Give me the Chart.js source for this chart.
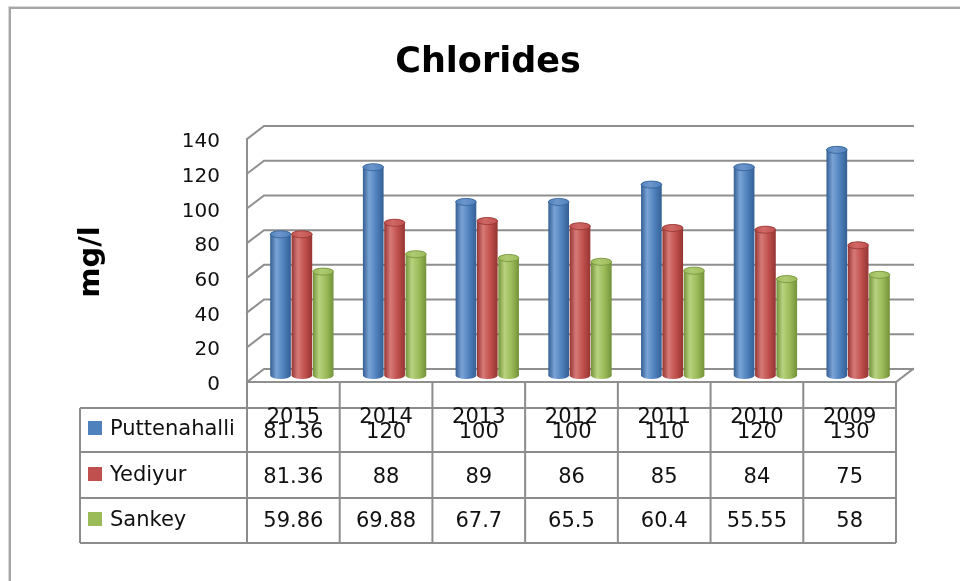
<!DOCTYPE html>
<html>
<head>
<meta charset="utf-8">
<title>Chlorides</title>
<script src="https://cdn.jsdelivr.net/npm/chart.js@4/dist/chart.umd.min.js"></script>
<style>
  html, body { margin: 0; padding: 0; background: #ffffff; }
  #wrap { width: 960px; height: 581px; position: relative; }
</style>
</head>
<body>
<div id="wrap"><canvas id="chart" width="960" height="581"></canvas></div>
<script>
// Chloride concentration (mg/l) per year at three sampling sites
const years = ['2015', '2014', '2013', '2012', '2011', '2010', '2009'];
const puttenahalli = [81.36, 120, 100, 100, 110, 120, 130];
const yediyur = [81.36, 88, 89, 86, 85, 84, 75];
const sankey = [59.86, 69.88, 67.7, 65.5, 60.4, 55.55, 58];
const seriesNames = ['Puttenahalli', 'Yediyur', 'Sankey'];
const yTickMin = 0, yTickMax = 140, yTickStep = 20;

const FONT = '"DejaVu Sans", sans-serif';
const palette = [
  { main: '#4f81bd', light: '#7aa3d6', dark: '#345f93', top: '#6d96cc' },
  { main: '#c0504d', light: '#d77a77', dark: '#943532', top: '#d06966' },
  { main: '#9bbb59', light: '#b8d27f', dark: '#73923a', top: '#afcb73' }
];
// 3D depth of the plot box (back wall offset)
const DEPTH = { dx: 17, dy: -13 };

function cylinder(ctx, cx, top, base, w, c) {
  const rx = w / 2, ry = Math.max(2.5, w * 0.17);
  const l = cx - rx, r = cx + rx;
  const g = ctx.createLinearGradient(l, 0, r, 0);
  g.addColorStop(0, c.dark);
  g.addColorStop(0.3, c.light);
  g.addColorStop(0.65, c.main);
  g.addColorStop(1, c.dark);
  ctx.beginPath();
  ctx.moveTo(l, top);
  ctx.lineTo(l, base);
  ctx.ellipse(cx, base, rx, ry, 0, Math.PI, 0, true);
  ctx.lineTo(r, top);
  ctx.ellipse(cx, top, rx, ry, 0, 0, Math.PI, true);
  ctx.closePath();
  ctx.fillStyle = g;
  ctx.fill();
  ctx.beginPath();
  ctx.ellipse(cx, top, rx, ry, 0, 0, Math.PI * 2);
  const tg = ctx.createLinearGradient(l, 0, r, 0);
  tg.addColorStop(0, c.main);
  tg.addColorStop(0.4, c.top);
  tg.addColorStop(1, c.main);
  ctx.fillStyle = tg;
  ctx.fill();
  ctx.lineWidth = 0.8;
  ctx.strokeStyle = c.dark;
  ctx.stroke();
}

const framePlugin = {
  id: 'frame',
  beforeDraw(chart) {
    const ctx = chart.ctx;
    ctx.save();
    ctx.fillStyle = '#ffffff';
    ctx.fillRect(0, 0, chart.width, chart.height);
    ctx.fillStyle = '#d9d9d9';
    ctx.fillRect(8, 6, 1, chart.height);
    ctx.fillRect(8, 6, chart.width, 1);
    ctx.fillStyle = '#a6a6a6';
    ctx.fillRect(9, 7, 2, chart.height);
    ctx.fillRect(9, 7, chart.width, 2);

    // title
    ctx.fillStyle = '#000000';
    ctx.font = 'bold 35px ' + FONT;
    ctx.textAlign = 'center';
    ctx.textBaseline = 'alphabetic';
    ctx.fillText('Chlorides', 488, 72);

    // value axis title
    ctx.translate(99, 262);
    ctx.rotate(-Math.PI / 2);
    ctx.font = 'bold 29px ' + FONT;
    ctx.textBaseline = 'alphabetic';
    ctx.fillText('mg/l', 0, 0);
    ctx.restore();
  }
};

const wallPlugin = {
  id: 'walls',
  beforeDatasetsDraw(chart) {
    const { ctx, chartArea: a, scales: { y } } = chart;
    ctx.save();
    ctx.strokeStyle = '#8f8f8f';
    ctx.lineWidth = 2;
    ctx.lineCap = 'square';
    for (let v = yTickMin; v <= yTickMax; v += yTickStep) {
      const yf = y.getPixelForValue(v);
      ctx.beginPath();
      ctx.moveTo(a.left, yf);
      ctx.lineTo(a.left + DEPTH.dx, yf + DEPTH.dy);
      ctx.lineTo(a.right + DEPTH.dx, yf + DEPTH.dy);
      ctx.stroke();
    }
    // side wall edge and floor front
    const y0 = y.getPixelForValue(0);
    ctx.beginPath();
    ctx.moveTo(a.left, a.top);
    ctx.lineTo(a.left, y0);
    ctx.lineTo(a.right, y0);
    ctx.lineTo(a.right + DEPTH.dx, y0 + DEPTH.dy);
    ctx.stroke();
    ctx.restore();
  }
};

const cylinderPlugin = {
  id: 'cylinders',
  afterDatasetsDraw(chart) {
    const ctx = chart.ctx;
    ctx.save();
    ctx.translate(DEPTH.dx / 2, DEPTH.dy / 2);
    chart.data.datasets.forEach((ds, di) => {
      const meta = chart.getDatasetMeta(di);
      meta.data.forEach(el => {
        const p = el.getProps(['x', 'y', 'base', 'width'], true);
        cylinder(ctx, p.x, p.y, p.base, p.width, palette[di]);
      });
    });
    ctx.restore();
  }
};

const tablePlugin = {
  id: 'dataTable',
  afterDraw(chart) {
    const { ctx, chartArea: a, scales: { x } } = chart;
    const series = [puttenahalli, yediyur, sankey];
    const tableLeft = 80, headerBottom = 408;
    const rowLines = [452, 498, 543];
    const n = years.length;
    const colW = (a.right - a.left) / n;
    ctx.save();
    ctx.strokeStyle = '#8c8c8c';
    ctx.lineWidth = 2;
    ctx.beginPath();
    // column separators
    for (let i = 0; i <= n; i++) {
      const xx = a.left + i * colW;
      ctx.moveTo(xx, a.bottom);
      ctx.lineTo(xx, rowLines[2]);
    }
    ctx.moveTo(tableLeft, headerBottom);
    ctx.lineTo(tableLeft, rowLines[2]);
    ctx.moveTo(tableLeft, headerBottom);
    ctx.lineTo(a.right, headerBottom);
    rowLines.forEach(ry => { ctx.moveTo(tableLeft, ry); ctx.lineTo(a.right, ry); });
    ctx.stroke();

    ctx.fillStyle = '#111111';
    ctx.font = '21px ' + FONT;
    ctx.textAlign = 'center';
    ctx.textBaseline = 'alphabetic';
    years.forEach((yr, i) => ctx.fillText(yr, x.getPixelForValue(i), 423));
    const valueBaselines = [438, 483, 527];
    series.forEach((vals, si) => {
      vals.forEach((v, i) => ctx.fillText(String(v), x.getPixelForValue(i), valueBaselines[si]));
    });

    // legend keys
    const legendBaselines = [435, 481, 526];
    ctx.textAlign = 'left';
    seriesNames.forEach((name, si) => {
      ctx.fillStyle = palette[si].main;
      ctx.fillRect(88, legendBaselines[si] - 14, 14, 14);
      ctx.fillStyle = '#111111';
      ctx.fillText(name, 110, legendBaselines[si]);
    });
    ctx.restore();
  }
};

new Chart(document.getElementById('chart'), {
  type: 'bar',
  data: {
    labels: years,
    datasets: [
      { label: seriesNames[0], data: puttenahalli },
      { label: seriesNames[1], data: yediyur },
      { label: seriesNames[2], data: sankey }
    ].map(d => Object.assign(d, {
      backgroundColor: 'rgba(0,0,0,0)',
      borderWidth: 0,
      barPercentage: 0.97,
      categoryPercentage: 0.69
    }))
  },
  options: {
    responsive: false,
    animation: false,
    events: [],
    layout: { padding: { left: 0, right: 64, top: 139, bottom: 199 } },
    plugins: { legend: { display: false }, title: { display: false }, tooltip: { enabled: false } },
    scales: {
      x: { display: false },
      y: {
        min: yTickMin,
        max: yTickMax,
        afterFit(scale) { scale.width = 247; },
        grid: { display: false, drawTicks: false },
        border: { display: false },
        ticks: {
          stepSize: yTickStep,
          padding: 27,
          labelOffset: 3,
          color: '#111111',
          font: { family: FONT, size: 20 }
        }
      }
    }
  },
  plugins: [framePlugin, wallPlugin, cylinderPlugin, tablePlugin]
});
</script>
</body>
</html>
